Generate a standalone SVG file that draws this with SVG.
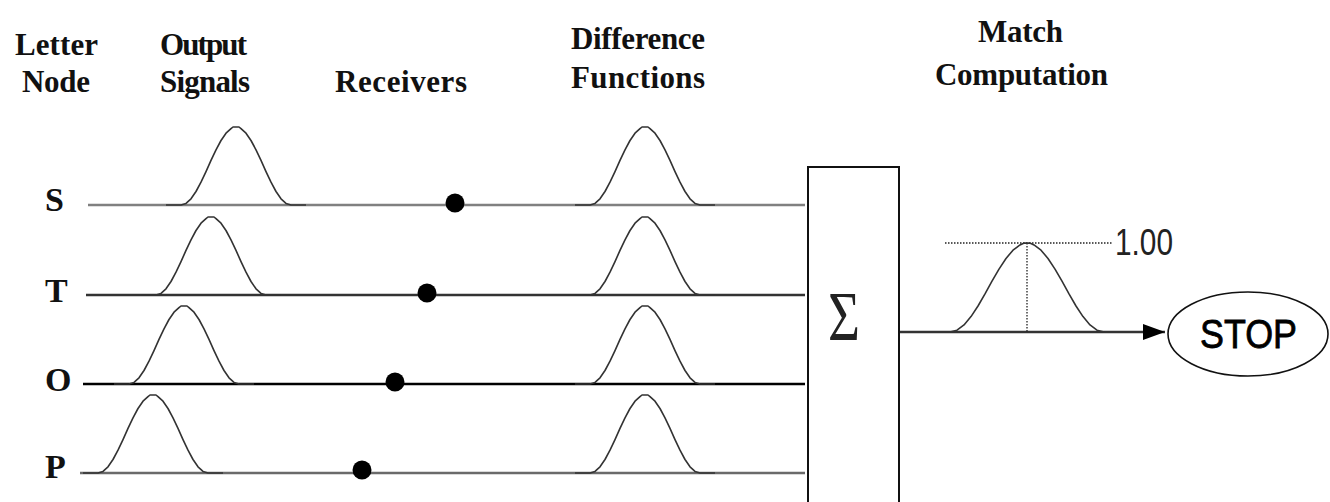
<svg xmlns="http://www.w3.org/2000/svg" width="1330" height="502" viewBox="0 0 1330 502">
  <style>
    .hdr { font-family: "Liberation Serif", "Times New Roman", serif; font-weight: bold; font-size: 31px; fill: #111; }
    .ltr { font-family: "Liberation Serif", "Times New Roman", serif; font-weight: bold; font-size: 34px; fill: #111; }
    .bell { fill: none; stroke: #333; stroke-width: 1.6; stroke-linejoin: round; vector-effect: non-scaling-stroke; }
    .dot { fill: #000; }
    .wire { fill: none; stroke-width: 2.6; }
    .dotted { fill: none; stroke: #222; stroke-width: 1.3; stroke-dasharray: 1.5 1.5; }
  </style>
  <defs>
    <path id="bell" d="M-70,0 L-55,0 L-50,-1.6 L-45,-6.2 L-40,-13.5 L-35,-22.8 L-30,-33.4 L-25,-44.6 L-20,-55.2 L-15,-64.5 L-10,-71.8 L-5,-76.4 L-3,-78 L3,-78 L5,-76.4 L10,-71.8 L15,-64.5 L20,-55.2 L25,-44.6 L30,-33.4 L35,-22.8 L40,-13.5 L45,-6.2 L50,-1.6 L55,0 L70,0"/>
    <marker id="arrow" markerWidth="24" markerHeight="18" refX="22" refY="9" orient="auto" markerUnits="userSpaceOnUse">
      <path d="M0,1 L22,9 L0,17 Z" fill="#000"/>
    </marker>
  </defs>
  <rect width="1330" height="502" fill="#fff"/>

  <g id="headers">
    <text class="hdr" x="15" y="55" textLength="83" lengthAdjust="spacing">Letter</text>
    <text class="hdr" x="22" y="92" textLength="68" lengthAdjust="spacing">Node</text>
    <text class="hdr" x="160" y="55" textLength="87" lengthAdjust="spacing">Output</text>
    <text class="hdr" x="160" y="92" textLength="90" lengthAdjust="spacing">Signals</text>
    <text class="hdr" x="335" y="92" textLength="132" lengthAdjust="spacing">Receivers</text>
    <text class="hdr" x="571" y="49" textLength="134" lengthAdjust="spacing">Difference</text>
    <text class="hdr" x="571" y="88" textLength="134" lengthAdjust="spacing">Functions</text>
    <text class="hdr" x="978" y="42" textLength="85" lengthAdjust="spacing">Match</text>
    <text class="hdr" x="935" y="85" textLength="173" lengthAdjust="spacing">Computation</text>
  </g>

  <g id="connectors">
    <line class="wire" x1="88" y1="205" x2="805" y2="205" stroke="#808080"/>
    <line class="wire" x1="86" y1="295" x2="805" y2="295" stroke="#333"/>
    <line class="wire" x1="83" y1="384" x2="805" y2="384" stroke="#000"/>
    <line class="wire" x1="80" y1="473" x2="805" y2="473" stroke="#6a6a6a"/>
    <line class="wire" x1="900" y1="332" x2="1165" y2="332" stroke="#333" marker-end="url(#arrow)"/>
  </g>

  <g id="node-S">
    <text class="ltr" x="45" y="211">S</text>
    <use href="#bell" class="bell" x="236" y="205"/>
    <circle class="dot" cx="455" cy="203" r="9.5"/>
    <use href="#bell" class="bell" x="645" y="205"/>
  </g>
  <g id="node-T">
    <text class="ltr" x="45" y="302">T</text>
    <use href="#bell" class="bell" x="211" y="295"/>
    <circle class="dot" cx="427" cy="293" r="9.5"/>
    <use href="#bell" class="bell" x="645" y="295"/>
  </g>
  <g id="node-O">
    <text class="ltr" x="45" y="391">O</text>
    <use href="#bell" class="bell" x="184" y="384"/>
    <circle class="dot" cx="395" cy="382" r="9.5"/>
    <use href="#bell" class="bell" x="645" y="384"/>
  </g>
  <g id="node-P">
    <text class="ltr" x="45" y="478">P</text>
    <use href="#bell" class="bell" x="153" y="473"/>
    <circle class="dot" cx="362" cy="470" r="9.5"/>
    <use href="#bell" class="bell" x="645" y="473"/>
  </g>

  <g id="sum-box">
    <rect x="808" y="167" width="91" height="345" fill="#fff" stroke="#111" stroke-width="2"/>
    <text x="828" y="340" font-family="Liberation Serif, serif" font-size="70" fill="#222" textLength="32" lengthAdjust="spacingAndGlyphs">Σ</text>
  </g>

  <g id="match">
    <line class="dotted" x1="945" y1="243" x2="1112" y2="243"/>
    <line class="dotted" x1="1027" y1="243" x2="1027" y2="332"/>
    <g transform="translate(1027,332) scale(1.4,1.14)">
      <path d="M-55,0 L-50,-1.6 L-45,-6.2 L-40,-13.5 L-35,-22.8 L-30,-33.4 L-25,-44.6 L-20,-55.2 L-15,-64.5 L-10,-71.8 L-5,-76.4 L-2,-78 L2,-78 L5,-76.4 L10,-71.8 L15,-64.5 L20,-55.2 L25,-44.6 L30,-33.4 L35,-22.8 L40,-13.5 L45,-6.2 L50,-1.6 L55,0" class="bell"/>
    </g>
    <text x="1115" y="255" font-family="Liberation Sans, Arial, sans-serif" font-size="36" fill="#222" textLength="58" lengthAdjust="spacingAndGlyphs">1.00</text>
  </g>

  <g id="stop">
    <ellipse cx="1248" cy="334" rx="80" ry="42" fill="#fff" stroke="#111" stroke-width="1.6"/>
    <text x="1200" y="348" font-family="Liberation Sans, Arial, sans-serif" font-size="41" fill="#000" stroke="#000" stroke-width="0.8" textLength="97" lengthAdjust="spacingAndGlyphs">STOP</text>
  </g>
</svg>
